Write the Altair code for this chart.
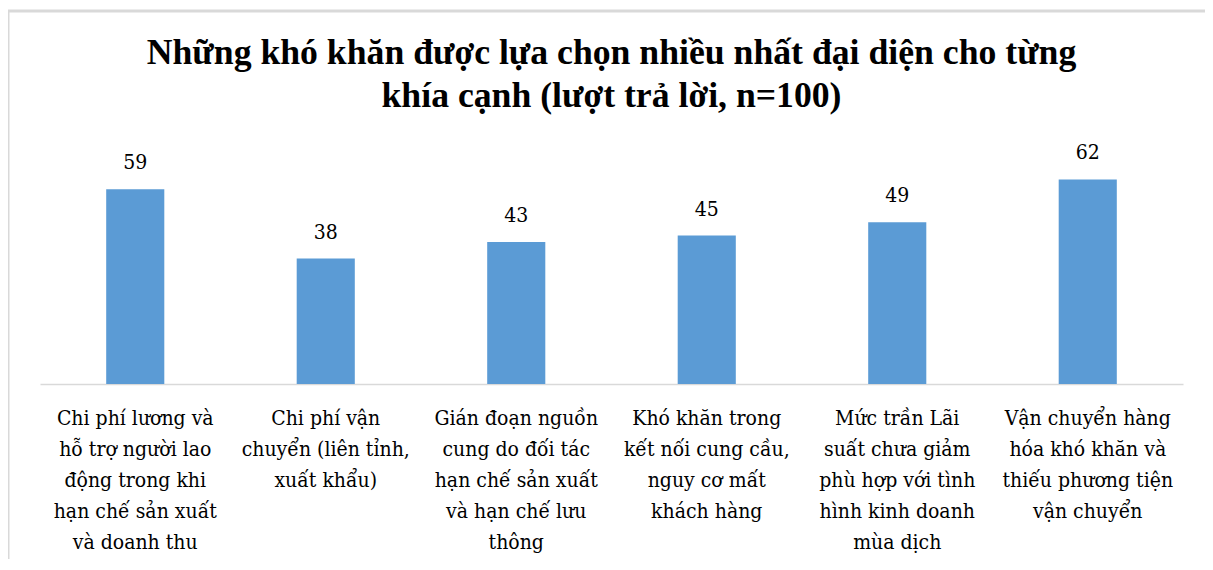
import altair as alt
import pandas as pd

categories = [
    "Chi phí lương và\nhỗ trợ người lao\nđộng trong khi\nhạn chế sản xuất\nvà doanh thu",
    "Chi phí vận\nchuyển (liên tỉnh,\nxuất khẩu)",
    "Gián đoạn nguồn\ncung do đối tác\nhạn chế sản xuất\nvà hạn chế lưu\nthông",
    "Khó khăn trong\nkết nối cung cầu,\nnguy cơ mất\nkhách hàng",
    "Mức trần Lãi\nsuất chưa giảm\nphù hợp với tình\nhình kinh doanh\nmùa dịch",
    "Vận chuyển hàng\nhóa khó khăn và\nthiếu phương tiện\nvận chuyển",
]
values = [59, 38, 43, 45, 49, 62]
title_lines = [
    "Những khó khăn được lựa chọn nhiều nhất đại diện cho từng",
    "khía cạnh (lượt trả lời, n=100)",
]

df = pd.DataFrame({"cat": categories, "val": values})

SERIF = "DejaVu Serif Condensed, DejaVu Serif, serif"

x_enc = alt.X(
    "cat:N",
    sort=categories,
    scale=alt.Scale(paddingInner=0.695, paddingOuter=0.3475),
    axis=alt.Axis(
        title=None,
        labelAngle=0,
        labelExpr="split(datum.label, '\\n')",
        labelFont=SERIF,
        labelFontSize=21,
        labelLineHeight=31,
        labelColor="#000000",
        labelPadding=23,
        labelLimit=0,
        ticks=False,
        domainColor="#d9d9d9",
        domainWidth=1.5,
        labelBaseline="top",
    ),
)
y_enc = alt.Y(
    "val:Q",
    scale=alt.Scale(domain=[0, 70], nice=False),
    axis=None,
)

base = alt.Chart(df).encode(x=x_enc, y=y_enc)
bars = base.mark_bar(color="#5b9bd5")
labels = base.mark_text(
    baseline="bottom", dy=-16, font=SERIF, fontSize=21, color="#000000"
).encode(text="val:Q")

frame_top = alt.Chart(alt.Data(values=[{}])).mark_rule(
    color="#d9d9d9", strokeWidth=3
).encode(x=alt.value(-33), x2=alt.value(1175), y=alt.value(-142))
frame_left = alt.Chart(alt.Data(values=[{}])).mark_rule(
    color="#d9d9d9", strokeWidth=3
).encode(x=alt.value(-32), y=alt.value(-143), y2=alt.value(420))

chart = (
    alt.layer(frame_top, frame_left, bars, labels)
    .properties(
        width=1143,
        height=231,
        autosize=alt.AutoSizeParams(type="none"),
        padding={"left": 32, "top": 145, "right": 22, "bottom": 175},
        title=alt.TitleParams(
            text=title_lines,
            font="Liberation Serif",
            fontSize=35.7,
            fontWeight="bold",
            color="#000000",
            lineHeight=43,
            anchor="middle",
            frame="group",
            offset=0,
            dy=106,
        ),
    )
    .configure_view(stroke=None)
)

chart.save("out.html", embed_options={"renderer": "svg", "actions": False})
